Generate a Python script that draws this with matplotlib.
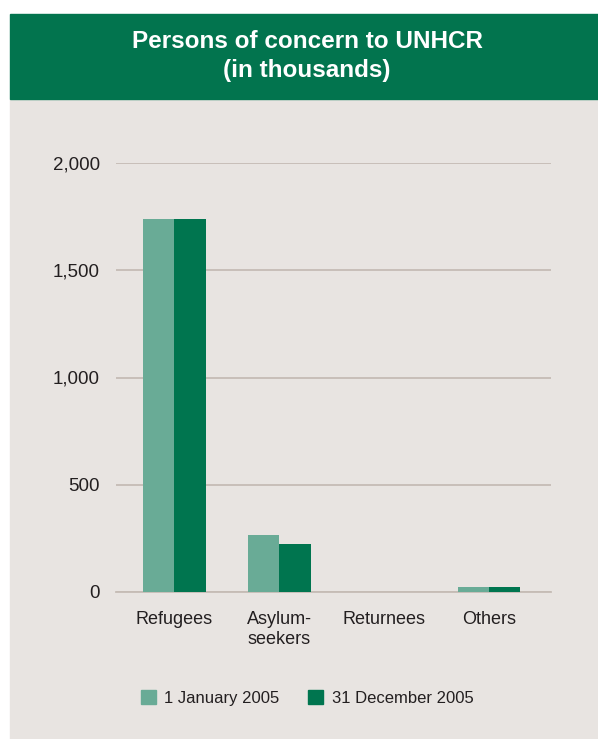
import numpy as np
from matplotlib import pyplot as plt
from matplotlib.patches import Rectangle, Patch

# data (thousands)
categories = ['Refugees', 'Asylum-\nseekers', 'Returnees', 'Others']
jan_2005 = [1740, 266, 0, 23]
dec_2005 = [1740, 224, 0, 23]
series_labels = ['1 January 2005', '31 December 2005']
yticks = [0, 500, 1000, 1500, 2000]
ytick_labels = ['0', '500', '1,000', '1,500', '2,000']

light = '#69ab96'
dark = '#00754f'
header = '#02744e'
panel = '#e8e4e1'
gridc = '#c5bcb5'
textc = '#231f20'

plt.rcParams['font.family'] = ['Liberation Sans', 'DejaVu Sans']

W, H = 598, 739
fig = plt.figure(figsize=(W / 100, H / 100), dpi=100)
fig.patch.set_facecolor('white')

# grey panel and green header
fig.patches.append(Rectangle((10 / W, 0), (W - 10) / W, (H - 99) / H,
                             transform=fig.transFigure, color=panel, zorder=-2))
fig.patches.append(Rectangle((10 / W, 1 - 99 / H), (W - 10) / W, 85 / H,
                             transform=fig.transFigure, color=header, zorder=-2))
fig.text(307 / W, 1 - 56 / H, 'Persons of concern to UNHCR\n(in thousands)',
         color='white', fontsize=17.5, fontweight='bold', ha='center', va='center',
         linespacing=1.35)

ax = fig.add_axes([116 / W, 1 - 592 / H, (551 - 116) / W, (592 - 163) / H])
ax.set_facecolor('none')
x = np.arange(len(categories))
w = 0.3
ax.bar(x - w / 2, jan_2005, width=w, color=light, zorder=2)
ax.bar(x + w / 2, dec_2005, width=w, color=dark, zorder=2)

ax.set_xlim((116 - 174) / 105, (551 - 174) / 105)
ax.set_ylim(0, 2000)
ax.set_yticks(yticks)
ax.set_yticklabels(ytick_labels)
ax.set_xticks(x)
ax.set_xticklabels(categories, linespacing=1.2, va='top')
ax.tick_params(axis='both', length=0, colors=textc)
ax.tick_params(axis='y', pad=11.5, labelsize=13.5)
ax.tick_params(axis='x', pad=14, labelsize=13)
ax.grid(axis='y', color=gridc, linewidth=1.3, zorder=1)
ax.set_axisbelow(True)
for s in ax.spines.values():
    s.set_visible(False)
ax.axhline(0, color=gridc, linewidth=1.3, zorder=1, clip_on=False)

handles = [Patch(color=light), Patch(color=dark)]
fig.legend(handles, series_labels, loc='center', ncol=2, frameon=False,
           bbox_to_anchor=(307 / W, 1 - 698 / H), fontsize=12,
           handlelength=0.9, handleheight=0.9, handletextpad=0.5,
           columnspacing=1.75, labelcolor=textc)

fig.savefig('out.png', dpi=100)
